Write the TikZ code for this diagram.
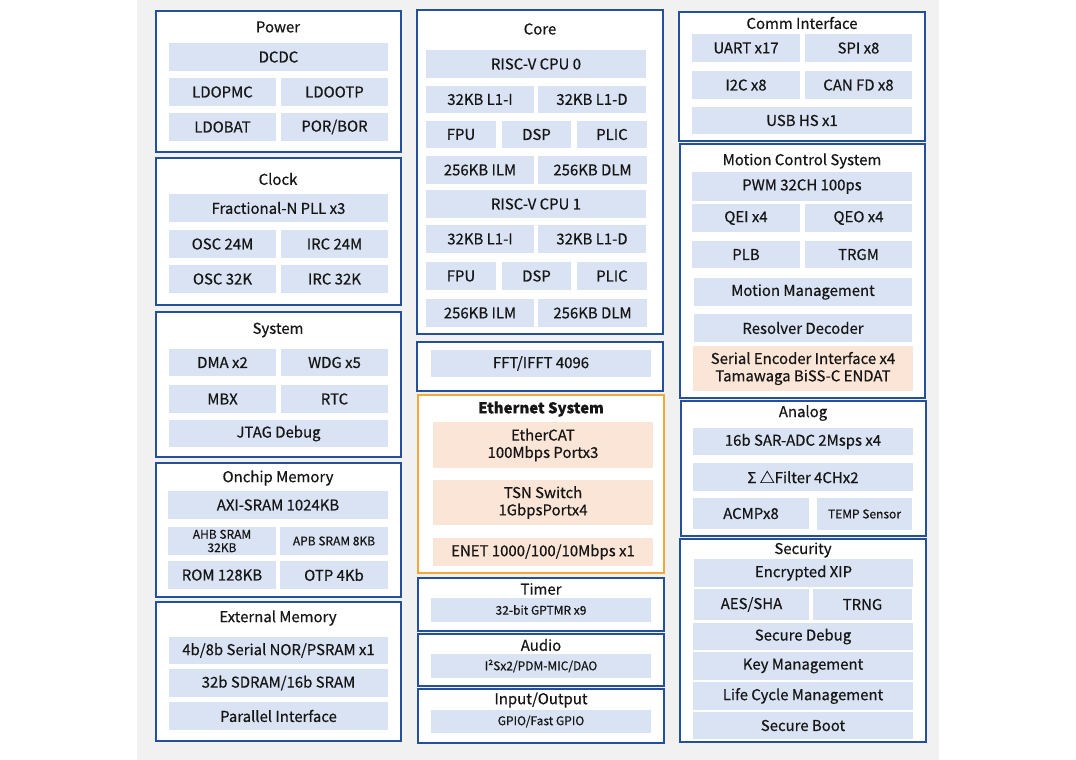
\documentclass[tikz,border=0pt]{standalone}
\usepackage{fontspec}
\setmainfont{Noto Sans CJK SC}[FakeBold=0.5]
\definecolor{bggray}{HTML}{F1F1F1}
\definecolor{bordblue}{HTML}{24509A}
\definecolor{inblue}{HTML}{DAE3F3}
\definecolor{inorange}{HTML}{FBE5D6}
\definecolor{bordorange}{HTML}{F2A93B}
\definecolor{txt}{HTML}{161616}
\newcommand{\blk}[7]{\node[#2, minimum width={(#5-#3)*0.75pt}, minimum height={(#6-#4)*0.75pt}] (#1) at ({(#3+#5)/2},{(#4+#6)/2}) {#7};}
\tikzset{
  outerbox/.style={draw=bordblue, line width=1.5pt, fill=white, inner sep=0pt},
  ethbox/.style={draw=bordorange, line width=1.3pt, fill=white, inner sep=0pt},
  inbox/.style={fill=inblue, inner sep=0pt, align=center, text=txt, font=\fontsize{11.2}{13}\selectfont},
  smallbox/.style={inbox, font=\fontsize{9}{10}\selectfont},
  orbox/.style={fill=inorange, inner sep=0pt, align=center, text=txt, font=\fontsize{11.2}{13}\selectfont},
  ttl/.style={inner sep=0pt, text=txt, font=\fontsize{11.2}{13}\selectfont},
}
\begin{document}
\begin{tikzpicture}[x=0.75pt, y=-0.75pt]
\useasboundingbox (0,0) rectangle (1076,760);
\fill[white] (0,0) rectangle (1076,760);
\fill[bggray] (137,0) rectangle (939,760);
% ---------- Column 1 ----------
\blk{power}{outerbox}{156}{11}{401}{152}{}
\node[ttl] (powerT) at (278,27) {Power};
\blk{dcdc}{inbox}{169}{43}{388}{71}{DCDC}
\blk{ldopmc}{inbox}{169}{78}{276}{106}{LDOPMC}
\blk{ldootp}{inbox}{281}{78}{388}{106}{LDOOTP}
\blk{ldobat}{inbox}{169}{113}{276}{141}{LDOBAT}
\blk{porbor}{inbox}{281}{113}{388}{141}{POR/BOR}
\blk{clock}{outerbox}{156}{158}{401}{305}{}
\node[ttl] (clockT) at (278,179) {Clock};
\blk{pll}{inbox}{169}{194}{388}{222}{Fractional-N PLL x3}
\blk{osca}{inbox}{169}{230}{276}{258}{OSC 24M}
\blk{irca}{inbox}{281}{230}{388}{258}{IRC 24M}
\blk{oscb}{inbox}{169}{265}{276}{293}{OSC 32K}
\blk{ircb}{inbox}{281}{265}{388}{293}{IRC 32K}
\blk{system}{outerbox}{156}{312}{401}{457}{}
\node[ttl] (systemT) at (278,330) {System};
\blk{dma}{inbox}{169}{349}{276}{376}{DMA x2}
\blk{wdg}{inbox}{281}{349}{388}{376}{WDG x5}
\blk{mbx}{inbox}{169}{385}{276}{413}{MBX}
\blk{rtc}{inbox}{281}{385}{388}{413}{RTC}
\blk{jtag}{inbox}{169}{420}{388}{447}{JTAG Debug}
\blk{onchip}{outerbox}{156}{463}{401}{597}{}
\node[ttl] (onchipT) at (278,478) {Onchip Memory};
\blk{axi}{inbox}{168}{491}{388}{519}{AXI-SRAM 1024KB}
\blk{ahb}{smallbox}{168}{527}{276}{555}{AHB SRAM\\32KB}
\blk{apb}{smallbox}{280}{527}{388}{555}{APB SRAM 8KB}
\blk{rom}{inbox}{168}{561}{276}{589}{ROM 128KB}
\blk{otp}{inbox}{280}{561}{388}{589}{OTP 4Kb}
\blk{extmem}{outerbox}{156}{602}{401}{741}{}
\node[ttl] (extmemT) at (278,618) {External Memory};
\blk{nor}{inbox}{169}{637}{388}{664}{4b/8b Serial NOR/PSRAM x1}
\blk{sdram}{inbox}{169}{669}{388}{697}{32b SDRAM/16b SRAM}
\blk{par}{inbox}{169}{702}{388}{730}{Parallel Interface}
% ---------- Column 2 ----------
\blk{core}{outerbox}{417}{10}{663}{334}{}
\node[ttl] (coreT) at (540,29) {Core};
\blk{cpua}{inbox}{426}{50}{646}{78}{RISC-V CPU 0}
\blk{lia}{inbox}{426}{86}{534}{113}{32KB L1-I}
\blk{lda}{inbox}{538}{86}{646}{113}{32KB L1-D}
\blk{fpua}{inbox}{426}{121}{496}{148}{FPU}
\blk{dspa}{inbox}{502}{121}{571}{148}{DSP}
\blk{plica}{inbox}{577}{121}{647}{148}{PLIC}
\blk{ilma}{inbox}{426}{156}{534}{184}{256KB ILM}
\blk{dlma}{inbox}{538}{156}{647}{184}{256KB DLM}
\blk{cpub}{inbox}{426}{190}{646}{218}{RISC-V CPU 1}
\blk{lib}{inbox}{426}{225}{534}{253}{32KB L1-I}
\blk{ldb}{inbox}{538}{225}{646}{253}{32KB L1-D}
\blk{fpub}{inbox}{426}{262}{496}{290}{FPU}
\blk{dspb}{inbox}{502}{262}{571}{290}{DSP}
\blk{plicb}{inbox}{577}{262}{647}{290}{PLIC}
\blk{ilmb}{inbox}{426}{299}{534}{327}{256KB ILM}
\blk{dlmb}{inbox}{538}{299}{647}{327}{256KB DLM}
\blk{fftbox}{outerbox}{417}{342}{663}{391}{}
\blk{fft}{inbox}{431}{350}{651}{377}{FFT/IFFT 4096}
\blk{eth}{ethbox}{418}{395}{664}{573}{}
\node[ttl, font=\fontsize{11.2}{13}\selectfont\bfseries] (ethT) at (541,409) {Ethernet System};
\blk{ecat}{orbox}{433}{422}{653}{468}{EtherCAT\\100Mbps Portx3}
\blk{tsn}{orbox}{433}{480}{653}{525}{TSN Switch\\1GbpsPortx4}
\blk{enet}{orbox}{433}{538}{653}{566}{ENET 1000/100/10Mbps x1}
\blk{timer}{outerbox}{418}{578}{664}{631}{}
\node[ttl] (timerT) at (541,589) {Timer};
\blk{gptmr}{smallbox}{431}{598}{651}{622}{32-bit GPTMR x9}
\blk{audio}{outerbox}{418}{634}{664}{686}{}
\node[ttl] (audioT) at (541,645) {Audio};
\blk{i2s}{smallbox}{431}{654}{651}{678}{I²Sx2/PDM-MIC/DAO}
\blk{io}{outerbox}{418}{689}{664}{743}{}
\node[ttl] (ioT) at (541,700) {Input/Output};
\blk{gpio}{smallbox}{431}{710}{651}{733}{GPIO/Fast GPIO}
% ---------- Column 3 ----------
\blk{comm}{outerbox}{679}{12}{925}{141}{}
\node[ttl] (commT) at (802,23) {Comm Interface};
\blk{uart}{inbox}{692}{34}{800}{62}{UART x17}
\blk{spi}{inbox}{805}{34}{912}{62}{SPI x8}
\blk{iic}{inbox}{692}{71}{800}{99}{I2C x8}
\blk{can}{inbox}{805}{71}{912}{99}{CAN FD x8}
\blk{usb}{inbox}{692}{107}{912}{134}{USB HS x1}
\blk{motion}{outerbox}{680}{144}{925}{398}{}
\node[ttl] (motionT) at (802,161) {Motion Control System};
\blk{pwm}{inbox}{692}{172}{912}{201}{PWM 32CH 100ps}
\blk{qei}{inbox}{692}{204}{800}{232}{QEI x4}
\blk{qeo}{inbox}{805}{204}{912}{232}{QEO x4}
\blk{plb}{inbox}{692}{241}{800}{268}{PLB}
\blk{trgm}{inbox}{805}{241}{912}{268}{TRGM}
\blk{mm}{inbox}{694}{278}{912}{306}{Motion Management}
\blk{resolver}{inbox}{694}{314}{912}{342}{Resolver Decoder}
\blk{serenc}{orbox}{693}{346}{913}{391}{Serial Encoder Interface x4\\Tamawaga BiSS-C ENDAT}
\blk{analog}{outerbox}{681}{401}{926}{536}{}
\node[ttl] (analogT) at (803,413) {Analog};
\blk{adc}{inbox}{693}{428}{913}{455}{16b SAR-ADC 2Msps x4}
\blk{filter}{inbox}{693}{463}{913}{491}{Σ △Filter 4CHx2}
\blk{acmp}{inbox}{693}{498}{809}{529}{ACMPx8}
\blk{temp}{smallbox}{817}{498}{912}{530}{TEMP Sensor}
\blk{security}{outerbox}{680}{539}{926}{742}{}
\node[ttl] (securityT) at (803,550) {Security};
\blk{xip}{inbox}{694}{559}{913}{587}{Encrypted XIP}
\blk{aes}{inbox}{694}{589}{809}{620}{AES/SHA}
\blk{trng}{inbox}{813}{589}{912}{620}{TRNG}
\blk{secdbg}{inbox}{693}{623}{913}{650}{Secure Debug}
\blk{keymgmt}{inbox}{693}{652}{913}{680}{Key Management}
\blk{lcm}{inbox}{693}{682}{913}{710}{Life Cycle Management}
\blk{secboot}{inbox}{693}{712}{913}{739}{Secure Boot}
\end{tikzpicture}
\end{document}
